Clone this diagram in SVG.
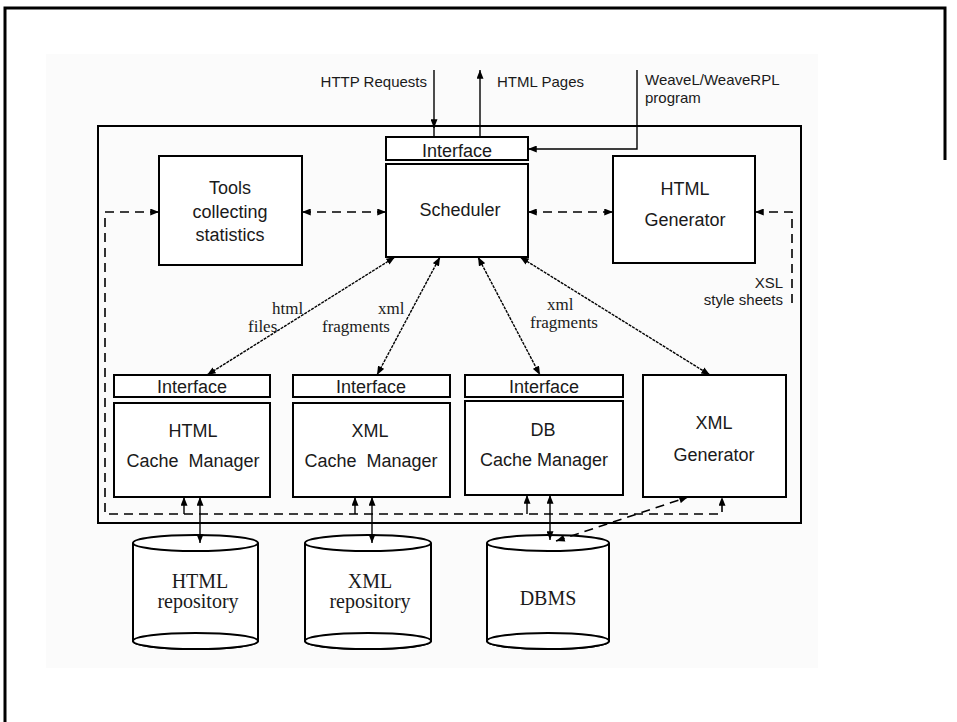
<svg xmlns="http://www.w3.org/2000/svg" width="957" height="722" viewBox="0 0 957 722">
<style>
.box{fill:#fff;stroke:#000;stroke-width:2}
.frame{fill:none;stroke:#000;stroke-width:2}
.t{font-family:"Liberation Sans",Arial,sans-serif;font-size:18px;text-anchor:middle;fill:#1a1a1a}
.l{font-family:"Liberation Sans",Arial,sans-serif;font-size:15px;fill:#1a1a1a}
.s{font-family:"Liberation Serif","Times New Roman",serif;fill:#1a1a1a}
.c{stroke:#000;stroke-width:1.4;fill:none}
.f{stroke-dasharray:3 1}
.d{stroke-dasharray:9 6;stroke-width:1.6}
.cyl{fill:#fff;stroke:#000;stroke-width:2}
</style>
<defs>
<marker id="a" viewBox="0 0 10 8" refX="10" refY="4" markerWidth="9" markerHeight="7" markerUnits="userSpaceOnUse" orient="auto-start-reverse">
<path d="M0,0 L10,4 L0,8 z" fill="#000"/>
</marker>
</defs>
<rect x="0" y="0" width="957" height="722" fill="#fff"/>
<rect x="46" y="54" width="772" height="614" fill="#fbfbfb"/>
<g id="page-border" fill="none" stroke="#000" stroke-width="3">
<path d="M5,722 V8 H945 V160"/>
</g>
<g id="system-frame">
<rect class="frame" x="98" y="126" width="703" height="397"/>
</g>

<g id="scheduler-interface">
<rect class="box" x="386" y="137" width="142" height="23"/>
<text class="t" x="457" y="157">Interface</text>
</g>
<g id="scheduler">
<rect class="box" x="386" y="164" width="142" height="93"/>
<text class="t" x="460" y="216">Scheduler</text>
</g>
<g id="tools">
<rect class="box" x="159" y="156" width="143" height="109"/>
<text class="t" x="230" y="194">Tools</text>
<text class="t" x="230" y="218">collecting</text>
<text class="t" x="230" y="241">statistics</text>
</g>
<g id="html-generator">
<rect class="box" x="613" y="156" width="142" height="107"/>
<text class="t" x="685" y="195">HTML</text>
<text class="t" x="685" y="226">Generator</text>
</g>

<g id="html-cache">
<rect class="box" x="114" y="375" width="156" height="22"/>
<text class="t" x="192" y="393">Interface</text>
<rect class="box" x="114" y="403" width="156" height="94"/>
<text class="t" x="193" y="437">HTML</text>
<text class="t" x="193" y="467" xml:space="preserve">Cache  Manager</text>
</g>
<g id="xml-cache">
<rect class="box" x="293" y="375" width="157" height="22"/>
<text class="t" x="371" y="393">Interface</text>
<rect class="box" x="293" y="403" width="157" height="94"/>
<text class="t" x="370" y="437">XML</text>
<text class="t" x="371" y="467" xml:space="preserve">Cache  Manager</text>
</g>
<g id="db-cache">
<rect class="box" x="465" y="375" width="158" height="22"/>
<text class="t" x="544" y="393">Interface</text>
<rect class="box" x="465" y="401" width="158" height="94"/>
<text class="t" x="543" y="436">DB</text>
<text class="t" x="544" y="466">Cache Manager</text>
</g>
<g id="xml-generator">
<rect class="box" x="643" y="375" width="143" height="122"/>
<text class="t" x="714" y="429">XML</text>
<text class="t" x="714" y="461">Generator</text>
</g>

<g id="html-repository">
<path class="cyl" d="M133,543 V641 A62.5,8 0 0 0 258,641 V543"/>
<ellipse class="cyl" cx="195.5" cy="543" rx="62.5" ry="8"/>
<ellipse class="cyl" cx="195.5" cy="641" rx="62.5" ry="8" fill="none"/>
<text class="s" x="200" y="588" font-size="20" text-anchor="middle">HTML</text>
<text class="s" x="198" y="608" font-size="20" text-anchor="middle">repository</text>
</g>
<g id="xml-repository">
<path class="cyl" d="M305,543 V641 A63,8 0 0 0 431,641 V543"/>
<ellipse class="cyl" cx="368" cy="543" rx="63" ry="8"/>
<ellipse class="cyl" cx="368" cy="641" rx="63" ry="8" fill="none"/>
<text class="s" x="370" y="588" font-size="20" text-anchor="middle">XML</text>
<text class="s" x="370" y="608" font-size="20" text-anchor="middle">repository</text>
</g>
<g id="dbms">
<path class="cyl" d="M487,543 V641 A61,8 0 0 0 609,641 V543"/>
<ellipse class="cyl" cx="548" cy="543" rx="61" ry="8"/>
<ellipse class="cyl" cx="548" cy="641" rx="61" ry="8" fill="none"/>
<text class="s" x="548" y="605" font-size="20" text-anchor="middle">DBMS</text>
</g>

<g id="connectors">
<line class="c" x1="434" y1="70" x2="434" y2="128" marker-end="url(#a)"/>
<line class="c" x1="434" y1="126" x2="434" y2="137"/>
<line class="c" x1="480" y1="137" x2="480" y2="70" marker-end="url(#a)"/>
<path class="c" d="M637,70 V149 H528" marker-end="url(#a)"/>

<line class="c d" x1="302" y1="212" x2="386" y2="212" marker-start="url(#a)" marker-end="url(#a)"/>
<line class="c d" x1="528" y1="212" x2="613" y2="212" marker-start="url(#a)" marker-end="url(#a)"/>
<path class="c d" d="M792,303 V212 H755" marker-end="url(#a)"/>
<path class="c d" d="M159,212 H105 V514 H722 V497" marker-start="url(#a)" marker-end="url(#a)"/>

<line class="c" x1="184" y1="514" x2="184" y2="497" marker-end="url(#a)"/>
<line class="c" x1="355" y1="514" x2="355" y2="497" marker-end="url(#a)"/>
<line class="c" x1="527" y1="514" x2="527" y2="495" marker-end="url(#a)"/>

<line class="c" x1="200" y1="497" x2="200" y2="543" marker-start="url(#a)" marker-end="url(#a)"/>
<line class="c" x1="372" y1="497" x2="372" y2="543" marker-start="url(#a)" marker-end="url(#a)"/>
<line class="c" x1="550" y1="495" x2="550" y2="540" marker-start="url(#a)" marker-end="url(#a)"/>
<line class="c d" x1="556" y1="541" x2="688" y2="497" marker-start="url(#a)" marker-end="url(#a)"/>

<line class="c f" x1="395" y1="257" x2="207" y2="375" marker-start="url(#a)" marker-end="url(#a)"/>
<line class="c f" x1="440" y1="257" x2="377" y2="375" marker-start="url(#a)" marker-end="url(#a)"/>
<line class="c f" x1="478" y1="257" x2="540" y2="375" marker-start="url(#a)" marker-end="url(#a)"/>
<line class="c f" x1="520" y1="257" x2="710" y2="375" marker-start="url(#a)" marker-end="url(#a)"/>
</g>

<g id="labels">
<text class="l" x="427" y="87" text-anchor="end">HTTP Requests</text>
<text class="l" x="497" y="87">HTML Pages</text>
<text class="l" x="645" y="85">WeaveL/WeaveRPL</text>
<text class="l" x="645" y="103">program</text>
<text class="l" x="783" y="288" text-anchor="end">XSL</text>
<text class="l" x="783" y="305" text-anchor="end">style sheets</text>
<text class="s" x="272" y="314" font-size="17">html</text>
<text class="s" x="248" y="332" font-size="17">files</text>
<text class="s" x="378" y="314" font-size="17">xml</text>
<text class="s" x="322" y="332" font-size="17">fragments</text>
<text class="s" x="547" y="310" font-size="17">xml</text>
<text class="s" x="530" y="328" font-size="17">fragments</text>
</g>
</svg>
